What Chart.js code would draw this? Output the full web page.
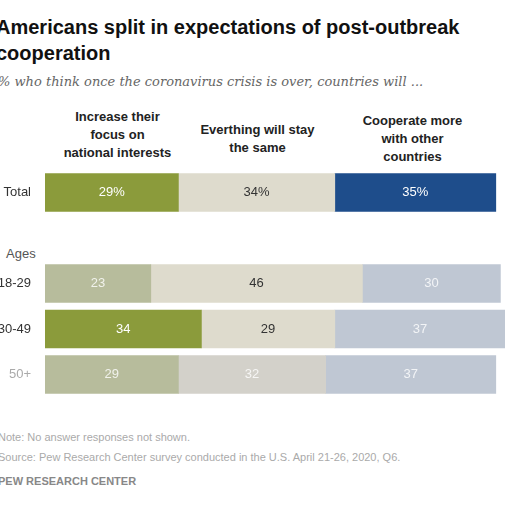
<!DOCTYPE html><html><head><meta charset="utf-8">
<script src="https://cdn.jsdelivr.net/npm/chart.js@4"></script>
<style>
body{margin:0;width:512px;height:512px;overflow:hidden;background:#fff;font-family:Arial,"Liberation Sans",sans-serif;position:relative}
.t{position:absolute;left:-4px;top:14px;font-size:20px;font-weight:bold;line-height:26px;color:#111;width:520px}
.s{position:absolute;left:-2px;top:74px;font-size:13px;font-style:italic;color:#666;font-family:Georgia,"DejaVu Serif",serif}
.h{position:absolute;top:108px;font-size:13px;font-weight:bold;text-align:center;line-height:18px;color:#222}
.n{position:absolute;left:-2px;font-size:11px;color:#aaa}
#w{position:absolute;left:0;top:156px;width:512px;height:255px}
.ages{position:absolute;left:6px;top:246px;font-size:13px;color:#555}
</style></head><body>
<div class="t">Americans split in expectations of post-outbreak<br>cooperation</div>
<div class="s">% who think once the coronavirus crisis is over, countries will ...</div>
<div class="h" style="left:45px;width:145px">Increase their<br>focus on<br>national interests</div>
<div class="h" style="left:180px;width:155px;top:121px">Everthing will stay<br>the same</div>
<div class="h" style="left:330px;width:165px;top:112px">Cooperate more<br>with other<br>countries</div>
<div class="ages">Ages</div>
<div id="w"><canvas id="c"></canvas></div>
<div class="n" style="top:431px">Note: No answer responses not shown.</div>
<div class="n" style="top:451px">Source: Pew Research Center survey conducted in the U.S. April 21-26, 2020, Q6.</div>
<div class="n" style="top:475px;font-weight:bold;color:#888">PEW RESEARCH CENTER</div>
<script>
const categories=["Total","","18-29","30-49","50+"];
const national=[29,null,23,34,29];
const same=[34,null,46,29,32];
const cooperate=[35,null,30,37,37];
const faded=[false,false,true,false,true];
const fadedGray=[false,false,false,false,true];
const fadedBlue=[false,false,true,true,true];
const cols={n:["#8b9b3b","#b7bc9c"],s:["#dedbcd","#d3d1ca"],c:["#1e4d8b","#bfc7d3"]};
function bg(key,arr){return ctx=>cols[key][arr[ctx.dataIndex]?1:0];}
const fl=[faded,fadedGray,fadedBlue];
const lbl={id:"lbl",afterDatasetsDraw(ch){const c=ch.ctx;c.save();c.font="13px Arial";c.textAlign="center";c.textBaseline="middle";
ch.data.datasets.forEach((ds,di)=>{ch.getDatasetMeta(di).data.forEach((el,i)=>{const v=ds.data[i];if(v==null)return;
const f=fl[di][i];let col;
if(f)col="rgba(255,255,255,0.8)";else col=(di==1)?"#333":"#fff";
c.fillStyle=col;c.fillText(i==0?v+"%":String(v),(el.x+el.base)/2,el.y);});});c.restore();}};
new Chart(document.getElementById("c"),{type:"bar",data:{labels:categories,datasets:[
{data:national,backgroundColor:bg("n",faded)},
{data:same,backgroundColor:bg("s",fadedGray)},
{data:cooperate,backgroundColor:bg("c",fadedBlue)}]},
options:{indexAxis:"y",responsive:true,maintainAspectRatio:false,animation:false,
layout:{padding:{right:7}},
datasets:{bar:{barThickness:38}},
plugins:{legend:{display:false},tooltip:{enabled:false}},
scales:{x:{stacked:true,min:0,max:100,display:false},
y:{stacked:true,grid:{display:false},border:{display:false},afterFit(s){s.width=45;},
ticks:{color:ctx=>ctx.index==4?"#aaa":"#333",font:{size:13,family:"Arial"},padding:6}}}},
plugins:[lbl]});
</script></body></html>
